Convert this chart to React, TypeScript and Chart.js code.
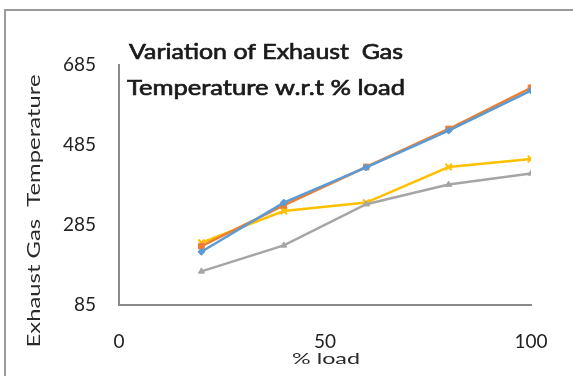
import React, { useEffect, useRef } from "react";
import { Chart, registerables } from "chart.js";

Chart.register(...registerables);

const loads = [20, 40, 60, 80, 100];
const seriesBlue = [218, 341, 429, 521, 621];
const seriesOrange = [232, 334, 430, 525, 628];
const seriesGray = [169, 234, 337, 386, 414];
const seriesYellow = [241, 320, 341, 430, 450];
const titleLines = ["Variation of Exhaust  Gas", "Temperature w.r.t % load"];
const yTitle = "Exhaust Gas  Temperature";
const xTitle = "% load";
const yTicks = [85, 285, 485, 685];
const xTicks = [0, 50, 100];

const FONT = "Lato, 'Open Sans', sans-serif";

function fitText(ctx: any, text: string, x: number, y: number, targetW: number, stroke = 0) {
  const w = ctx.measureText(text).width;
  const sx = targetW / w;
  ctx.save();
  ctx.translate(x, y);
  ctx.scale(sx, 1);
  ctx.fillText(text, 0, 0);
  if (stroke > 0) {
    ctx.lineWidth = stroke;
    ctx.strokeStyle = ctx.fillStyle;
    ctx.strokeText(text, 0, 0);
  }
  ctx.restore();
}

const decor = {
  id: "decor",
  beforeDraw(chart: any) {
    const ctx = chart.ctx;
    ctx.save();
    ctx.fillStyle = "#ffffff";
    ctx.fillRect(0, 0, chart.width, chart.height);
    ctx.strokeStyle = "#9a9a9a";
    ctx.lineWidth = 2;
    ctx.beginPath();
    ctx.moveTo(5, chart.height + 5);
    ctx.lineTo(5, 10);
    ctx.lineTo(chart.width + 5, 10);
    ctx.stroke();
    ctx.restore();
  },
  afterDraw(chart: any) {
    const ctx = chart.ctx;
    ctx.save();
    ctx.fillStyle = "#1a1a1a";
    ctx.font = "22px " + FONT;
    ctx.textAlign = "left";
    ctx.textBaseline = "alphabetic";
    fitText(ctx, titleLines[0], 129, 59, 274, 0.7);
    fitText(ctx, titleLines[1], 127, 95, 278, 0.7);

    ctx.fillStyle = "#2a2a2a";
    ctx.font = "16px " + FONT;
    ctx.textAlign = "center";
    ctx.textBaseline = "middle";
    fitText(ctx, xTitle, 326, 359, 68);

    ctx.translate(34, 211);
    ctx.rotate(-Math.PI / 2);
    ctx.font = "18px " + FONT;
    fitText(ctx, yTitle, 0, 0, 273);
    ctx.restore();
  },
};

export default function App() {
  const ref = useRef<HTMLCanvasElement>(null);
  useEffect(() => {
    document.body.style.margin = "0";
    const canvas = ref.current!;
    const mk = (label: string, data: number[], color: string, style: any, r: number) => ({
      label,
      data: loads.map((x, i) => ({ x, y: data[i] })),
      borderColor: color,
      backgroundColor: color,
      borderWidth: 2.5,
      pointStyle: style,
      pointRadius: r,
      pointBorderColor: color,
      pointBackgroundColor: color,
      pointBorderWidth: style === "crossRot" ? 2 : 1,
      tension: 0,
    });
    const chart = new Chart(canvas, {
      type: "line",
      data: {
        datasets: [
          mk("Series1", seriesBlue, "#5B9BD5", "rectRot", 3.5),
          mk("Series2", seriesOrange, "#ED7D31", "rect", 4),
          mk("Series3", seriesGray, "#A5A5A5", "triangle", 3.5),
          mk("Series4", seriesYellow, "#FFC000", "crossRot", 4.5),
        ],
      },
      options: {
        animation: false,
        responsive: false,
        devicePixelRatio: 1,
        layout: { padding: { top: 65, right: 42, left: 0, bottom: 0 } },
        plugins: { legend: { display: false }, title: { display: false }, tooltip: { enabled: false } },
        scales: {
          x: {
            type: "linear",
            min: 0,
            max: 100,
            afterBuildTicks: (s: any) => { s.ticks = xTicks.map((v) => ({ value: v })); },
            afterFit: (s: any) => { s.height = 71; },
            grid: { display: false, drawTicks: false },
            border: { display: true, color: "#8a8a8a", width: 2 },
            ticks: { padding: 25, color: "#222", font: { size: 19, family: FONT } },
          },
          y: {
            type: "linear",
            min: 85,
            max: 685,
            afterBuildTicks: (s: any) => { s.ticks = yTicks.map((v) => ({ value: v })); },
            afterFit: (s: any) => { s.width = 119; },
            grid: { display: false, drawTicks: false },
            border: { display: true, color: "#8a8a8a", width: 2 },
            ticks: { padding: 23, color: "#222", font: { size: 19, family: FONT } },
          },
        },
      },
      plugins: [decor],
    } as any);
    return () => chart.destroy();
  }, []);
  return <canvas ref={ref} width={573} height={376} style={{ display: "block" }} />;
}
